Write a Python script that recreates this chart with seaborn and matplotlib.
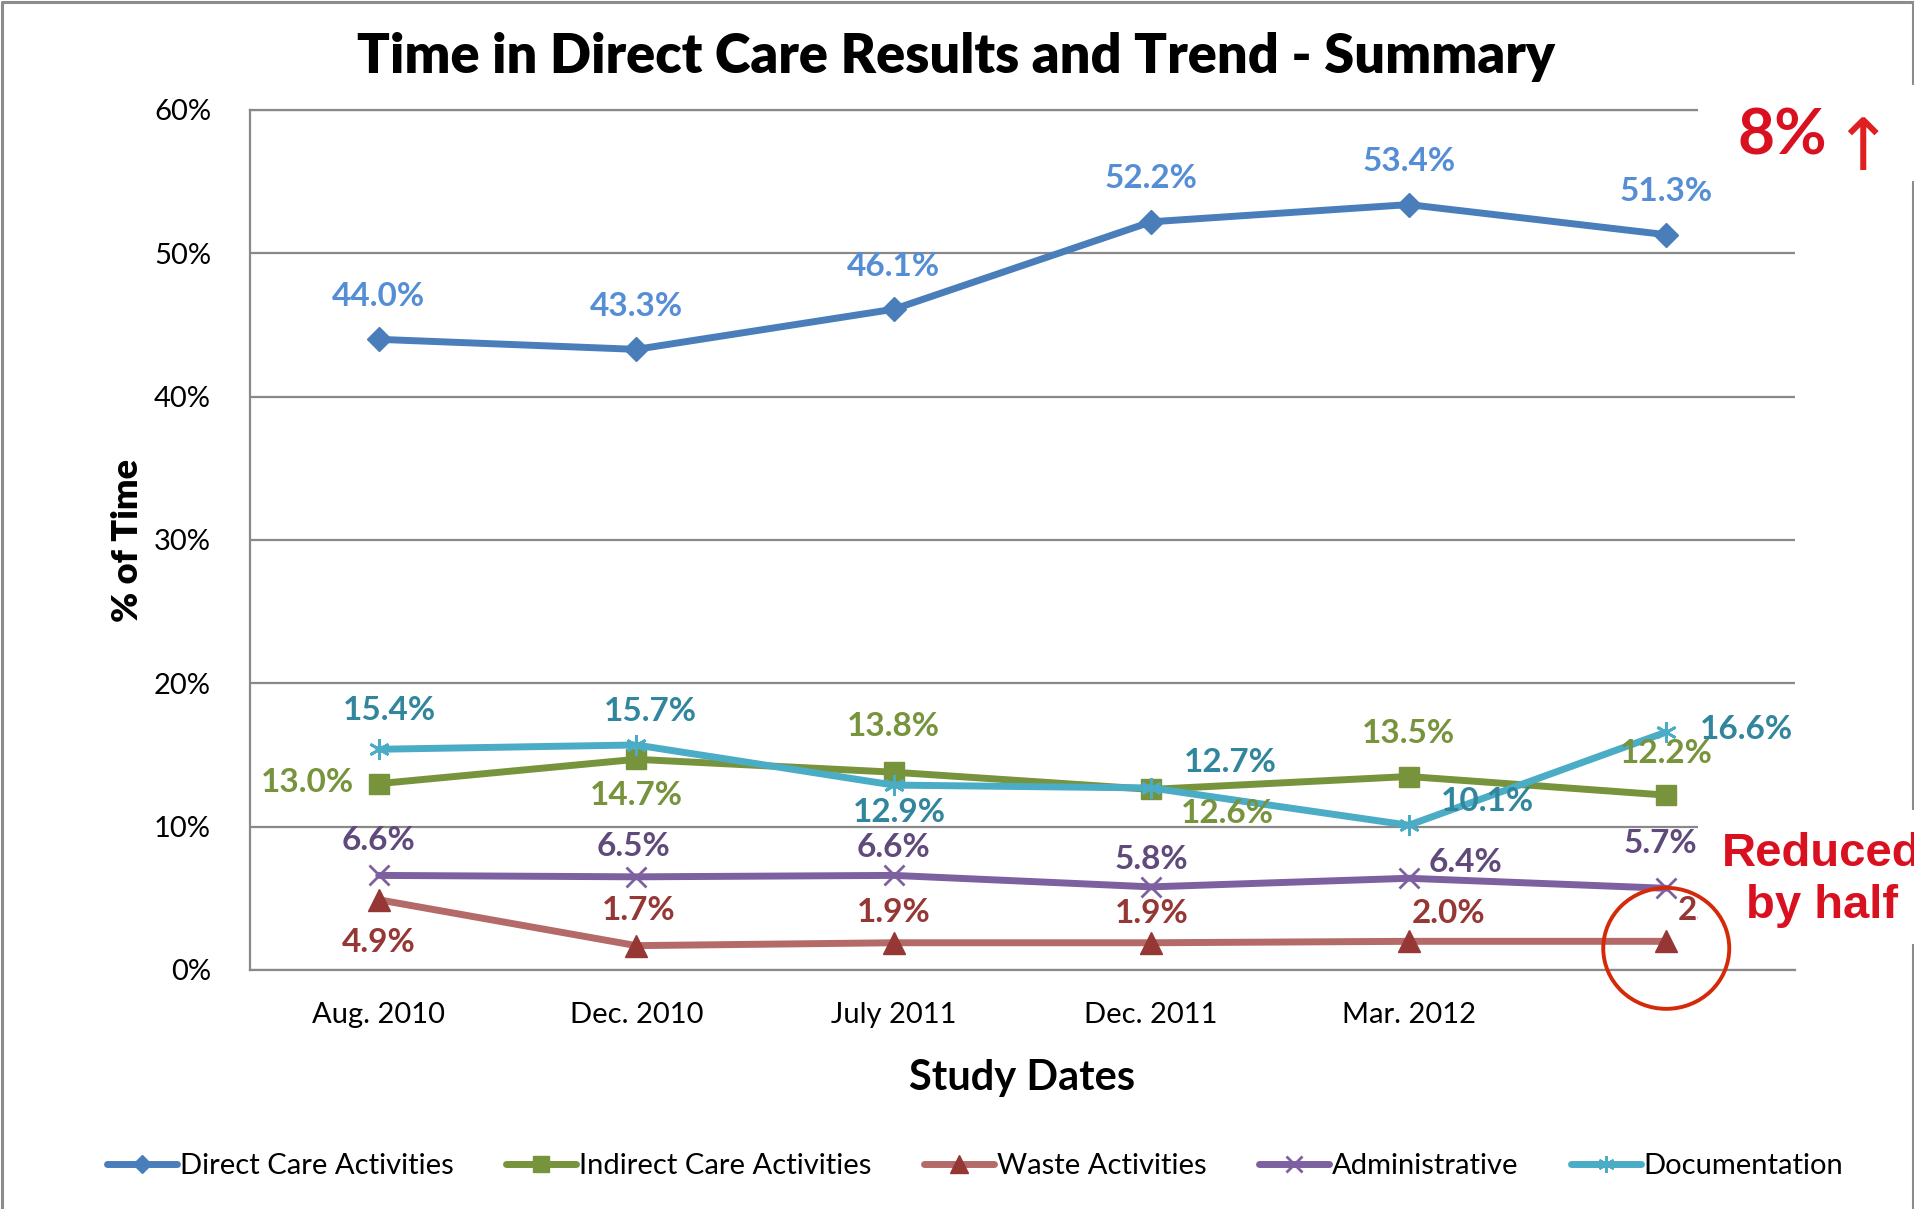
import numpy as np
import pandas as pd
import seaborn as sns
import matplotlib.pyplot as plt
from matplotlib.patches import Rectangle, Ellipse
from matplotlib.lines import Line2D
from matplotlib.transforms import ScaledTranslation

# data (percent of time)
study_dates = ["Aug. 2010", "Dec. 2010", "July 2011", "Dec. 2011", "Mar. 2012", ""]
direct_care = [44.0, 43.3, 46.1, 52.2, 53.4, 51.3]
indirect_care = [13.0, 14.7, 13.8, 12.6, 13.5, 12.2]
waste = [4.9, 1.7, 1.9, 1.9, 2.0, 2.0]
administrative = [6.6, 6.5, 6.6, 5.8, 6.4, 5.7]
documentation = [15.4, 15.7, 12.9, 12.7, 10.1, 16.6]
y_ticks = [0, 10, 20, 30, 40, 50, 60]

sns.set_style("white")
plt.rcParams['font.family'] = ['Lato', 'DejaVu Sans']
plt.rcParams['text.color'] = 'black'
plt.rcParams['axes.labelcolor'] = 'black'
plt.rcParams['xtick.color'] = 'black'
plt.rcParams['ytick.color'] = 'black'

# name: values, line colour, marker, marker size, marker colour, label colour, label offsets (pt)
series = {
    "Direct Care Activities": (direct_care, "#4A7EBB", "D", 12, "#4A7EBB", "#558ED5",
                               [(0, 31), (0, 31), (0, 31), (0, 31), (0, 31), (0, 31)]),
    "Indirect Care Activities": (indirect_care, "#77933C", "s", 15, "#77933C", "#77933C",
                                 [(-51, 1), (0, -26), (0, 33), (55, -17), (0, 31), (0, 30)]),
    "Waste Activities": (waste, "#B46A68", "^", 16, "#953735", "#953735",
                         [(0, -31), (2, 25), (0, 22), (0, 21), (29, 20), (35, 22)]),
    "Administrative": (administrative, "#7D60A0", "x", 15, "#7D60A0", "#604A7B",
                       [(0, 25), (-2, 22), (0, 20), (0, 20), (41, 11), (-4, 32)]),
    "Documentation": (documentation, "#4BACC6", (6, 2, 0), 15, "#4BACC6", "#31859C",
                      [(8, 28), (10, 24), (4, -20), (57, 18), (57, 17), (58, 2)]),
}

W, H = 1915, 1209
fig = plt.figure(figsize=(W / 100, H / 100), dpi=100)
ax = fig.add_axes([250 / W, 1 - 970 / H, 1545 / W, 860 / H])

for name, (vals, lc, mk, ms, mc, tc, offs) in series.items():
    df = pd.DataFrame({"x": range(len(vals)), "y": vals})
    sns.lineplot(data=df, x="x", y="y", ax=ax, color=lc, lw=5, label=name,
                 marker=mk, markersize=ms, markerfacecolor=mc, markeredgecolor=mc,
                 markeredgewidth=2 if mk in ("x", (6, 2, 0)) else 1)
    for i, v in enumerate(vals):
        ax.annotate(f"{v:.1f}%", (i, v), xytext=offs[i], textcoords="offset points",
                    ha="center", va="center", fontsize=24, fontweight="bold", color=tc)

ax.set_xlim(-0.5, 5.5)
ax.set_ylim(0, 60)
ax.set_xticks(range(len(study_dates)))
ax.set_xticklabels(study_dates, fontsize=21)
ax.set_yticks(y_ticks)
ax.set_yticklabels([f"{t}%" for t in y_ticks], fontsize=21)
ax.tick_params(length=0)
ax.tick_params(axis="x", pad=23)
ax.tick_params(axis="y", pad=28)
ax.yaxis.grid(True, color="#898989", lw=1.6)
ax.set_axisbelow(True)
for s in ["left", "bottom", "top"]:
    ax.spines[s].set_color("#898989")
    ax.spines[s].set_linewidth(1.6)
ax.spines["right"].set_visible(False)

ax.set_xlabel("Study Dates", fontsize=30, fontweight="bold", va="center")
ax.xaxis.set_label_coords(0.5, -0.126)
ax.set_ylabel("% of Time", fontsize=26, fontweight="heavy", va="center")
ax.yaxis.set_label_coords(-0.079, 0.5)

handles, labels = ax.get_legend_handles_labels()
ax.get_legend().remove()
fig.legend(handles, labels, loc="center", bbox_to_anchor=(975 / W, 1 - 1166 / H), ncol=5,
           frameon=False, fontsize=21, handlelength=2.4, handletextpad=0.1,
           columnspacing=1.8, markerscale=0.8)

fig.text(956 / W, 1 - 57 / H, "Time in Direct Care Results and Trend - Summary",
         ha="center", va="center", fontsize=39, fontweight="heavy")

# outer frame
fig.add_artist(Line2D([2 / W, 2 / W, 1 - 2 / W, 1 - 2 / W], [0, 1 - 2 / H, 1 - 2 / H, 0],
                      transform=fig.transFigure, color="#8c8c8c", lw=2.2, zorder=1))

# white boxes behind callouts
for y0, y1 in [(85, 181), (810, 944)]:
    fig.add_artist(Rectangle((1698 / W, 1 - y1 / H), (W - 1698) / W, (y1 - y0) / H,
                             transform=fig.transFigure, facecolor="white",
                             edgecolor="none", zorder=4))

fig.text(1782 / W, 1 - 136 / H, "8%", ha="center", va="center", fontsize=46,
         fontweight="bold", color="#D9101F", zorder=5)
fig.text(1862 / W, 1 - 150 / H, "\u2191", ha="center", va="center", fontsize=52,
         family=["DejaVu Sans"], color="#E02020", zorder=5)
fig.text(1822 / W, 1 - 880 / H, "Reduced\nby half", ha="center", va="center",
         fontsize=34, fontweight="bold", family=["Liberation Sans"], color="#D9101F",
         linespacing=1.22, zorder=5)

trans = fig.dpi_scale_trans + ScaledTranslation(5, waste[-1], ax.transData)
fig.add_artist(Ellipse((0, -0.07), 1.26, 1.21, transform=trans, fill=False,
                       edgecolor="#D42A0A", lw=2.8, zorder=6, clip_on=False))

fig.savefig("out.png", dpi=100)
